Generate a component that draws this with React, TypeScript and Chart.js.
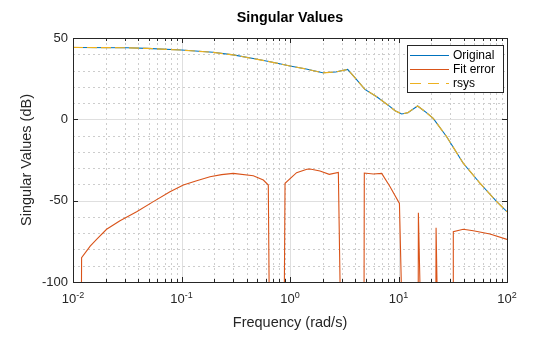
import React, { useEffect, useRef } from "react";
import { Chart, registerables } from "chart.js";

Chart.register(...registerables);

const freqOrig = [0.01, 0.0316, 0.048, 0.1, 0.195, 0.3, 0.5, 0.71, 1, 1.41, 2.0, 2.63, 3.4, 4.0, 4.9, 6.3, 8.36, 9.3, 10.7, 12.2, 15, 17.4, 20.9, 27.8, 39.5, 56.4, 80.4, 100];
const magOrig = [44.2, 44.0, 43.6, 42.6, 41.2, 39.6, 36.9, 34.9, 32.8, 30.9, 28.6, 29.1, 30.7, 25.3, 18.4, 13.9, 7.8, 5.3, 3.3, 4.1, 8.2, 5.0, 0.6, -10.7, -27, -39.3, -50.6, -56.8];
const magRsys = [44.2, 44.0, 43.6, 42.6, 41.2, 39.6, 36.9, 34.9, 32.8, 30.9, 28.6, 29.1, 30.7, 25.3, 18.4, 13.9, 7.8, 5.3, 3.3, 4.1, 8.2, 5.0, 0.6, -10.7, -27, -39.3, -50.6, -56.8];

const freqErr = [0.0118, 0.012, 0.0144, 0.0165, 0.0204, 0.0271, 0.0386, 0.055, 0.0783, 0.104, 0.138, 0.183, 0.234, 0.3, 0.459, 0.568, 0.631, 0.66, 0.868, 0.9, 1.15, 1.43, 1.53, 1.89, 2.3, 2.79, 3.05, 4.78, 4.84, 5.86, 7.0, 8.36, 10.2, 11.5, 15.1, 15.25, 17.0, 21.9, 22.2, 24.0, 31.8, 32.0, 39.5, 48.9, 69.7, 100];
const magErr = [-200, -85, -78, -73.8, -67.6, -62.3, -56.8, -50.6, -44.5, -40.4, -37.7, -35.3, -34.0, -33.2, -34.7, -37.3, -40.4, -200, -200, -39.3, -32.8, -30.7, -30.5, -31.8, -33.8, -32.6, -200, -200, -33, -33.6, -33.2, -41.4, -51.7, -200, -200, -57.4, -200, -200, -66.6, -200, -200, -69.1, -67.6, -68.5, -70.5, -73.8];

const yTicks = [50, 0, -50, -100];
const xDecadeExps = [-2, -1, 0, 1, 2];
const legendLabels = ["Original", "Fit error", "rsys"];
const titleText = "Singular Values";
const xLabel = "Frequency (rad/s)";
const yLabel = "Singular Values (dB)";

const C_ORIG = "#0072BD";
const C_ERR = "#D95319";
const C_RSYS = "#EDB120";
const AX = "#262626";
const FONT = '"Liberation Sans", Arial, Helvetica, sans-serif';

const toPts = (xs: number[], ys: number[]) => xs.map((x, i) => ({ x, y: ys[i] }));

const matlabPlugin = {
  id: "matlabAxes",
  beforeDraw(chart: any) {
    const ctx = chart.ctx;
    ctx.save();
    ctx.fillStyle = "#ffffff";
    ctx.fillRect(0, 0, chart.width, chart.height);
    ctx.restore();
  },
  beforeDatasetsDraw(chart: any) {
    const ctx = chart.ctx;
    const { left, right, top, bottom } = chart.chartArea;
    const xs = chart.scales.x;
    const ys = chart.scales.y;
    ctx.save();
    ctx.lineWidth = 1;
    ctx.strokeStyle = "#cdcdcd";
    ctx.setLineDash([2, 3]);
    ctx.beginPath();
    for (let d = -2; d < 2; d++) {
      for (let k = 2; k <= 9; k++) {
        const px = Math.round(xs.getPixelForValue(k * Math.pow(10, d))) + 0.5;
        ctx.moveTo(px, top);
        ctx.lineTo(px, bottom);
      }
    }
    for (let v = -90; v < 50; v += 10) {
      if (v % 50 === 0) continue;
      const py = Math.round(ys.getPixelForValue(v)) + 0.5;
      ctx.moveTo(left, py);
      ctx.lineTo(right, py);
    }
    ctx.stroke();
    ctx.setLineDash([]);
    ctx.strokeStyle = "#dfdfdf";
    ctx.beginPath();
    for (const e of xDecadeExps) {
      const px = Math.round(xs.getPixelForValue(Math.pow(10, e))) + 0.5;
      ctx.moveTo(px, top);
      ctx.lineTo(px, bottom);
    }
    for (const v of yTicks) {
      const py = Math.round(ys.getPixelForValue(v)) + 0.5;
      ctx.moveTo(left, py);
      ctx.lineTo(right, py);
    }
    ctx.stroke();
    ctx.restore();
  },
  afterDatasetsDraw(chart: any) {
    const ctx = chart.ctx;
    const { left, right, top, bottom } = chart.chartArea;
    const xs = chart.scales.x;
    const ys = chart.scales.y;
    ctx.save();
    ctx.lineWidth = 1;
    ctx.strokeStyle = AX;
    ctx.setLineDash([]);
    ctx.beginPath();
    for (let d = -2; d < 2; d++) {
      for (let k = 2; k <= 9; k++) {
        const px = Math.round(xs.getPixelForValue(k * Math.pow(10, d))) + 0.5;
        ctx.moveTo(px, bottom);
        ctx.lineTo(px, bottom - 3);
        ctx.moveTo(px, top);
        ctx.lineTo(px, top + 3);
      }
    }
    for (const e of xDecadeExps) {
      const px = Math.round(xs.getPixelForValue(Math.pow(10, e))) + 0.5;
      ctx.moveTo(px, bottom);
      ctx.lineTo(px, bottom - 5);
      ctx.moveTo(px, top);
      ctx.lineTo(px, top + 5);
    }
    for (const v of yTicks) {
      const py = Math.round(ys.getPixelForValue(v)) + 0.5;
      ctx.moveTo(left, py);
      ctx.lineTo(left + 5, py);
      ctx.moveTo(right, py);
      ctx.lineTo(right - 5, py);
    }
    ctx.stroke();
    ctx.strokeRect(Math.round(left) + 0.5, Math.round(top) + 0.5, Math.round(right - left), Math.round(bottom - top));

    ctx.fillStyle = AX;
    ctx.font = `13px ${FONT}`;
    ctx.textAlign = "right";
    ctx.textBaseline = "middle";
    for (const v of yTicks) {
      ctx.fillText(String(v), left - 5, ys.getPixelForValue(v));
    }
    ctx.textBaseline = "alphabetic";
    ctx.textAlign = "left";
    for (const e of xDecadeExps) {
      const px = xs.getPixelForValue(Math.pow(10, e));
      ctx.font = `13px ${FONT}`;
      const wb = ctx.measureText("10").width;
      ctx.font = `9px ${FONT}`;
      const es = String(e);
      const we = ctx.measureText(es).width;
      const x0 = px - (wb + we) / 2;
      ctx.font = `13px ${FONT}`;
      ctx.fillText("10", x0, bottom + 21);
      ctx.font = `9px ${FONT}`;
      ctx.fillText(es, x0 + wb, bottom + 16);
    }
    ctx.font = `14.5px ${FONT}`;
    ctx.textAlign = "center";
    ctx.fillText(xLabel, (left + right) / 2, bottom + 45);
    ctx.save();
    ctx.translate(27, (top + bottom) / 2);
    ctx.rotate(-Math.PI / 2);
    ctx.textBaseline = "middle";
    ctx.fillText(yLabel, 0, 0);
    ctx.restore();
    ctx.fillStyle = "#000000";
    ctx.font = `bold 14.3px ${FONT}`;
    ctx.textAlign = "center";
    ctx.fillText(titleText, (left + right) / 2, 22);

    const lx = 407.5, ly = 45.5, lw = 96, lh = 47;
    ctx.fillStyle = "#ffffff";
    ctx.fillRect(lx, ly, lw, lh);
    ctx.strokeStyle = AX;
    ctx.strokeRect(lx, ly, lw, lh);
    const cols = [C_ORIG, C_ERR, C_RSYS];
    const rowsY = [55.5, 69.5, 83.5];
    ctx.font = `12px ${FONT}`;
    ctx.textAlign = "left";
    ctx.textBaseline = "middle";
    legendLabels.forEach((lab, i) => {
      ctx.strokeStyle = cols[i];
      ctx.setLineDash(i === 2 ? [11, 7] : []);
      ctx.beginPath();
      ctx.moveTo(410, rowsY[i]);
      ctx.lineTo(449, rowsY[i]);
      ctx.stroke();
      ctx.setLineDash([]);
      ctx.fillStyle = "#000000";
      ctx.fillText(lab, 453, rowsY[i]);
    });
    ctx.restore();
  },
};

export default function App() {
  const ref = useRef<HTMLCanvasElement>(null);
  useEffect(() => {
    document.body.style.margin = "0";
    if (!ref.current) return;
    const chart = new Chart(ref.current, {
      type: "line",
      data: {
        datasets: [
          {
            label: "rsys",
            data: toPts(freqOrig, magRsys),
            borderColor: C_RSYS,
            borderWidth: 1.2,
            borderDash: [10, 4],
            pointRadius: 0,
            fill: false,
            tension: 0,
          },
          {
            label: "Fit error",
            data: toPts(freqErr, magErr),
            borderColor: C_ERR,
            borderWidth: 1.1,
            pointRadius: 0,
            fill: false,
            tension: 0,
          },
          {
            label: "Original",
            data: toPts(freqOrig, magOrig),
            borderColor: C_ORIG,
            borderWidth: 1.1,
            pointRadius: 0,
            fill: false,
            tension: 0,
          },
        ],
      },
      options: {
        responsive: false,
        animation: false,
        devicePixelRatio: 1,
        layout: { padding: { left: 73, right: 53, top: 38, bottom: 55 } },
        scales: {
          x: { type: "logarithmic", min: 0.01, max: 100, display: false },
          y: { type: "linear", min: -100, max: 50, display: false },
        },
        plugins: {
          legend: { display: false },
          title: { display: false },
          tooltip: { enabled: false },
        },
        events: [],
      },
      plugins: [matlabPlugin],
    } as any);
    return () => chart.destroy();
  }, []);
  return (
    <div style={{ width: 560, height: 337 }}>
      <canvas ref={ref} width={560} height={337} style={{ display: "block", width: 560, height: 337 }} />
    </div>
  );
}
